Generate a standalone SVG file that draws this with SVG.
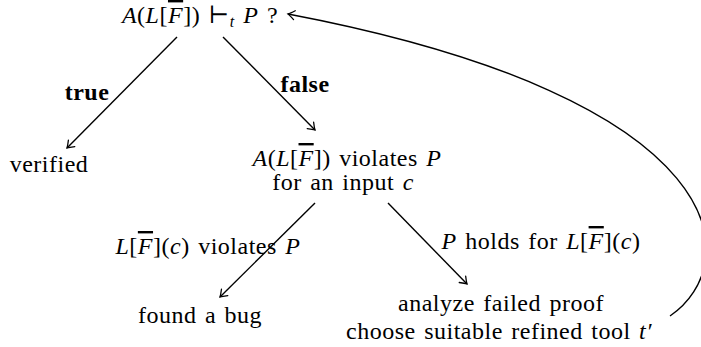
<svg xmlns="http://www.w3.org/2000/svg" width="701" height="347" viewBox="0 0 701 347">
<style>
text{font-family:"Liberation Serif","DejaVu Serif",serif;font-size:24px;letter-spacing:0.5px;word-spacing:2px;fill:#000;text-anchor:middle}
.i{font-style:italic}
.b{font-weight:bold}
.ov{text-decoration:overline}
.sub{font-size:16px;font-style:italic}
.c{fill:none;stroke:#000;stroke-width:1.4}
</style>
<defs>
<marker id="ah" markerWidth="12" markerHeight="12" refX="0" refY="0" viewBox="-8 -6 10 12" orient="auto" markerUnits="userSpaceOnUse">
<path d="M-6.5,-4.5 Q-2,-1 0,0 Q-2,1 -6.5,4.5" fill="none" stroke="#000" stroke-width="1.3" stroke-linecap="round"/>
</marker>
</defs>
<rect width="701" height="347" fill="#fff"/>
<g id="query"><text x="200" y="23"><tspan class="i">A</tspan>(<tspan class="i">L</tspan>[<tspan class="i ov">F</tspan>]) ⊢<tspan class="sub" dy="4">t</tspan><tspan dy="-4"> </tspan><tspan class="i">P</tspan> ?</text></g>
<g id="verified"><text x="49" y="172">verified</text></g>
<g id="violates"><text x="347" y="166"><tspan class="i">A</tspan>(<tspan class="i">L</tspan>[<tspan class="i ov">F</tspan>]) violates <tspan class="i">P</tspan></text><text x="343" y="190">for an input <tspan class="i">c</tspan></text></g>
<g id="bug"><text x="200" y="323">found a bug</text></g>
<g id="analyze"><text x="501" y="311">analyze failed proof</text><text x="499" y="339">choose suitable refined tool <tspan class="i">t′</tspan></text></g>
<g id="connectors">
<line class="c" x1="177" y1="37" x2="67" y2="148" marker-end="url(#ah)"/>
<line class="c" x1="223" y1="37" x2="315" y2="130" marker-end="url(#ah)"/>
<line class="c" x1="315" y1="203" x2="220" y2="297" marker-end="url(#ah)"/>
<line class="c" x1="388" y1="203" x2="467" y2="284" marker-end="url(#ah)"/>
<path class="c" d="M670,316 C745,265 740,100 288,14" marker-end="url(#ah)"/>
<text class="b" x="87" y="100">true</text>
<text class="b" x="305" y="92">false</text>
<text x="208" y="254"><tspan class="i">L</tspan>[<tspan class="i ov">F</tspan>](<tspan class="i">c</tspan>) violates <tspan class="i">P</tspan></text>
<text x="541" y="249"><tspan class="i">P</tspan> holds for <tspan class="i">L</tspan>[<tspan class="i ov">F</tspan>](<tspan class="i">c</tspan>)</text>
</g>
</svg>
